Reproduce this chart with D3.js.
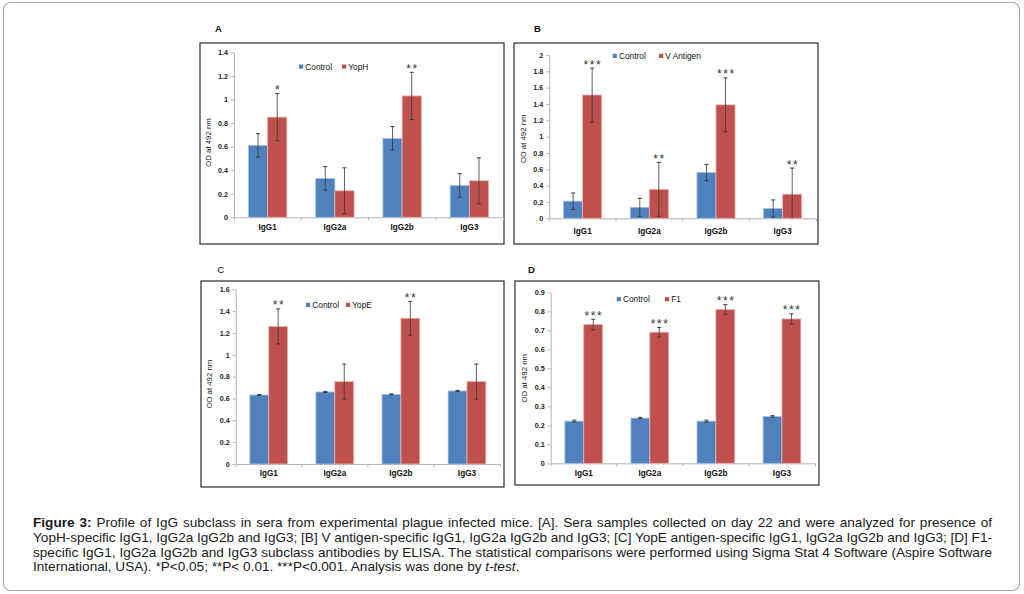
<!DOCTYPE html>
<html>
<head>
<meta charset="utf-8">
<script src="https://cdn.jsdelivr.net/npm/d3@7"></script>
<style>
  html, body { margin: 0; padding: 0; background: #fff; }
  svg { display: block; font-family: "Liberation Sans", Arial, sans-serif; }
</style>
</head>
<body>
<svg id="fig" width="1024" height="594"></svg>
<script>
// ---- data ----
const categories = ["IgG1", "IgG2a", "IgG2b", "IgG3"];

// [A] YopH
const controlA = [0.61, 0.33, 0.67, 0.27];
const controlErrA = [0.10, 0.10, 0.10, 0.10];
const yopH = [0.85, 0.225, 1.03, 0.31];
const yopHErr = [0.20, 0.195, 0.20, 0.195];
const starsA = ["*", "", "**", ""];
const ticksA = [0, 0.2, 0.4, 0.6, 0.8, 1, 1.2, 1.4];

// [B] V antigen
const controlB = [0.21, 0.135, 0.56, 0.12];
const controlErrB = [0.10, 0.11, 0.10, 0.105];
const vAntigen = [1.51, 0.355, 1.39, 0.295];
const vAntigenErr = [0.33, 0.33, 0.33, 0.32];
const starsB = ["***", "**", "***", "**"];
const ticksB = [0, 0.2, 0.4, 0.6, 0.8, 1, 1.2, 1.4, 1.6, 1.8, 2];

// [C] YopE
const controlC = [0.632, 0.66, 0.638, 0.669];
const controlErrC = [0.004, 0.005, 0.004, 0.005];
const yopE = [1.26, 0.755, 1.335, 0.755];
const yopEErr = [0.16, 0.16, 0.155, 0.16];
const starsC = ["**", "", "**", ""];
const ticksC = [0, 0.2, 0.4, 0.6, 0.8, 1, 1.2, 1.4, 1.6];

// [D] F1
const controlD = [0.222, 0.238, 0.222, 0.247];
const controlErrD = [0.005, 0.004, 0.005, 0.004];
const f1 = [0.73, 0.69, 0.81, 0.76];
const f1Err = [0.028, 0.025, 0.025, 0.027];
const starsD = ["***", "***", "***", "***"];
const ticksD = [0, 0.1, 0.2, 0.3, 0.4, 0.5, 0.6, 0.7, 0.8, 0.9];

const captionLines = [
  [{ t: "Figure 3:", b: true }, { t: " Profile of IgG subclass in sera from experimental plague infected mice. [A]. Sera samples collected on day 22 and were analyzed for presence of" }],
  [{ t: "YopH-specific IgG1, IgG2a IgG2b and IgG3; [B] V antigen-specific IgG1, IgG2a IgG2b and IgG3; [C] YopE antigen-specific IgG1, IgG2a IgG2b and IgG3; [D] F1-" }],
  [{ t: "specific IgG1, IgG2a IgG2b and IgG3 subclass antibodies by ELISA. The statistical comparisons were performed using Sigma Stat 4 Software (Aspire Software" }],
  [{ t: "International, USA). *P<0.05; **P< 0.01. ***P<0.001. Analysis was done by " }, { t: "t-test", i: true }, { t: "." }]
];

const BLUE = "#4F81BD", RED = "#C0504D";

// ---- layout for the four panels ----
const panels = [
  { letter: "A", bold: true, lab: [215, 32], frame: [200, 43, 504, 244],
    x0: 234, x1: 503, yBottom: 217.3, yTop: 52.3, ticks: ticksA,
    control: controlA, controlErr: controlErrA, treated: yopH, treatedErr: yopHErr,
    stars: starsA, name: "YopH", legend: [299, 66.7, 43], catDy: 15, title: [208, 142.5] },
  { letter: "B", bold: true, lab: [534, 32], frame: [514, 43, 818, 244],
    x0: 549.3, x1: 816, yBottom: 218.3, yTop: 55, ticks: ticksB,
    control: controlB, controlErr: controlErrB, treated: vAntigen, treatedErr: vAntigenErr,
    stars: starsB, name: "V Antigen", legend: [612.7, 56, 46.3], catDy: 17.5, title: [523, 138.8] },
  { letter: "C", bold: false, lab: [217.5, 272.7], frame: [201, 281, 504, 487],
    x0: 235.7, x1: 500, yBottom: 464, yTop: 289.3, ticks: ticksC,
    control: controlC, controlErr: controlErrC, treated: yopE, treatedErr: yopEErr,
    stars: starsC, name: "YopE", legend: [306, 305, 40], catDy: 14.5, title: [209.5, 384] },
  { letter: "D", bold: true, lab: [528, 272.7], frame: [515, 281, 819, 485],
    x0: 550.7, x1: 815, yBottom: 463.3, yTop: 292.3, ticks: ticksD,
    control: controlD, controlErr: controlErrD, treated: f1, treatedErr: f1Err,
    stars: starsD, name: "F1", legend: [616.7, 299.3, 48.3], catDy: 15, title: [524.5, 378.3] }
];

const svg = d3.select("#fig");

// outer rounded frame
svg.append("rect")
  .attr("x", 3.5).attr("y", 2.5).attr("width", 1016).attr("height", 588)
  .attr("rx", 7).attr("fill", "#fff").attr("stroke", "#a9a9a9").attr("stroke-width", 1.2);

const fmt = d3.format("~f");

panels.forEach(p => {
  const g = svg.append("g");

  // panel letter
  g.append("text").attr("x", p.lab[0]).attr("y", p.lab[1])
    .attr("font-size", 9.5).attr("font-weight", p.bold ? "bold" : "normal")
    .attr("fill", "#111").text(p.letter);

  // chart frame
  const [fx0, fy0, fx1, fy1] = p.frame;
  g.append("rect").attr("x", fx0).attr("y", fy0)
    .attr("width", fx1 - fx0).attr("height", fy1 - fy0)
    .attr("fill", "#fff").attr("stroke", "#2a2a2a").attr("stroke-width", 1.2);

  const yMax = p.ticks[p.ticks.length - 1];
  const y = d3.scaleLinear().domain([0, yMax]).range([p.yBottom, p.yTop]);
  const x = d3.scaleBand().domain(categories).range([p.x0, p.x1]).padding(0);
  const inner = d3.scaleBand().domain(["control", "treated"])
    .range([0, x.bandwidth()]).paddingInner(0).paddingOuter(0.75);

  // y axis
  const yAxis = g.append("g").attr("transform", `translate(${p.x0},0)`)
    .call(d3.axisLeft(y).tickValues(p.ticks).tickFormat(fmt).tickSize(3).tickSizeOuter(0).tickPadding(3));
  yAxis.select(".domain").attr("stroke", "#b5b5b5");
  yAxis.selectAll(".tick line").attr("stroke", "#b5b5b5");
  yAxis.selectAll(".tick text").attr("font-size", 7.2).attr("font-weight", "bold")
    .attr("fill", "#222").attr("font-family", "Liberation Sans, Arial, sans-serif");

  // x axis (labels at band centers, ticks at band edges)
  const xAxis = g.append("g").attr("transform", `translate(0,${p.yBottom})`)
    .call(d3.axisBottom(x).tickSize(0).tickSizeOuter(3).tickPadding(p.catDy - 8));
  xAxis.select(".domain").attr("stroke", "#b5b5b5");
  xAxis.selectAll(".tick text").attr("font-size", 8.2).attr("font-weight", "bold")
    .attr("fill", "#111").attr("font-family", "Liberation Sans, Arial, sans-serif");
  g.append("g").selectAll("line").data(categories.slice(1)).join("line")
    .attr("x1", d => x(d)).attr("x2", d => x(d))
    .attr("y1", p.yBottom).attr("y2", p.yBottom + 3)
    .attr("stroke", "#b5b5b5");

  // bars
  const rows = categories.map((c, i) => ({
    c,
    series: [
      { key: "control", v: p.control[i], e: p.controlErr[i], color: BLUE, tint: "#a9c1e0" },
      { key: "treated", v: p.treated[i], e: p.treatedErr[i], color: RED, tint: "#e8b4b2" }
    ],
    star: p.stars[i]
  }));

  const grp = g.append("g").selectAll("g").data(rows).join("g")
    .attr("transform", d => `translate(${x(d.c)},0)`);

  grp.selectAll("rect").data(d => d.series).join("rect")
    .attr("x", s => inner(s.key))
    .attr("y", s => y(s.v))
    .attr("width", inner.bandwidth())
    .attr("height", s => y(0) - y(s.v))
    .attr("fill", s => s.color)
    .attr("stroke", s => s.tint).attr("stroke-width", 0.8);

  // error bars
  const eb = grp.selectAll("g.err").data(d => d.series).join("g").attr("class", "err")
    .attr("stroke", "#3a3a3a").attr("stroke-width", 1);
  const cx = s => inner(s.key) + inner.bandwidth() / 2;
  const lo = s => y(Math.max(0, s.v - s.e));
  const hi = s => y(s.v + s.e);
  eb.append("line").attr("x1", cx).attr("x2", cx).attr("y1", lo).attr("y2", hi)
    .attr("stroke-opacity", 0.8);
  eb.append("line").attr("x1", s => cx(s) - 2).attr("x2", s => cx(s) + 2)
    .attr("y1", hi).attr("y2", hi);
  eb.filter(s => s.v - s.e > 0).append("line")
    .attr("x1", s => cx(s) - 2).attr("x2", s => cx(s) + 2)
    .attr("y1", lo).attr("y2", lo);

  // significance stars
  grp.append("text")
    .attr("x", d => cx(d.series[1]) + 0.8)
    .attr("y", d => hi(d.series[1]) + 0.5)
    .attr("text-anchor", "middle")
    .attr("font-size", 12).attr("letter-spacing", 1.6)
    .attr("fill", "#333")
    .text(d => d.star);

  // legend
  const [lx, ly, off] = p.legend;
  const leg = g.append("g").selectAll("g")
    .data([{ t: "Control", c: BLUE }, { t: p.name, c: RED }]).join("g")
    .attr("transform", (d, i) => `translate(${lx + i * off},${ly})`);
  leg.append("rect").attr("x", 0).attr("y", -2.2).attr("width", 4.2).attr("height", 4.2)
    .attr("fill", d => d.c);
  leg.append("text").attr("x", 6.3).attr("y", 3).attr("font-size", 8.3)
    .attr("fill", "#111").text(d => d.t);

  // y axis title
  g.append("text")
    .attr("transform", `translate(${p.title[0]},${p.title[1]}) rotate(-90)`)
    .attr("text-anchor", "middle").attr("dy", "0.35em")
    .attr("font-size", 7.8).attr("fill", "#111")
    .text("OD at 492 nm");
});

// caption, justified across lines 1-3
const capX = 33, capRight = 992, capY0 = 527, capDy = 14.8;
captionLines.forEach((line, li) => {
  const t = svg.append("text")
    .attr("x", capX).attr("y", capY0 + li * capDy)
    .attr("font-size", 13.6).attr("fill", "#1a1a1a");
  line.forEach(part => {
    t.append("tspan")
      .attr("font-weight", part.b ? "bold" : null)
      .attr("font-style", part.i ? "italic" : null)
      .text(part.t);
  });
  if (li < captionLines.length - 1) {
    const w = t.node().getComputedTextLength();
    const spaces = line.map(p => p.t).join("").split(" ").length - 1;
    t.attr("word-spacing", (capRight - capX - w) / spaces);
  }
});
</script>
</body>
</html>
